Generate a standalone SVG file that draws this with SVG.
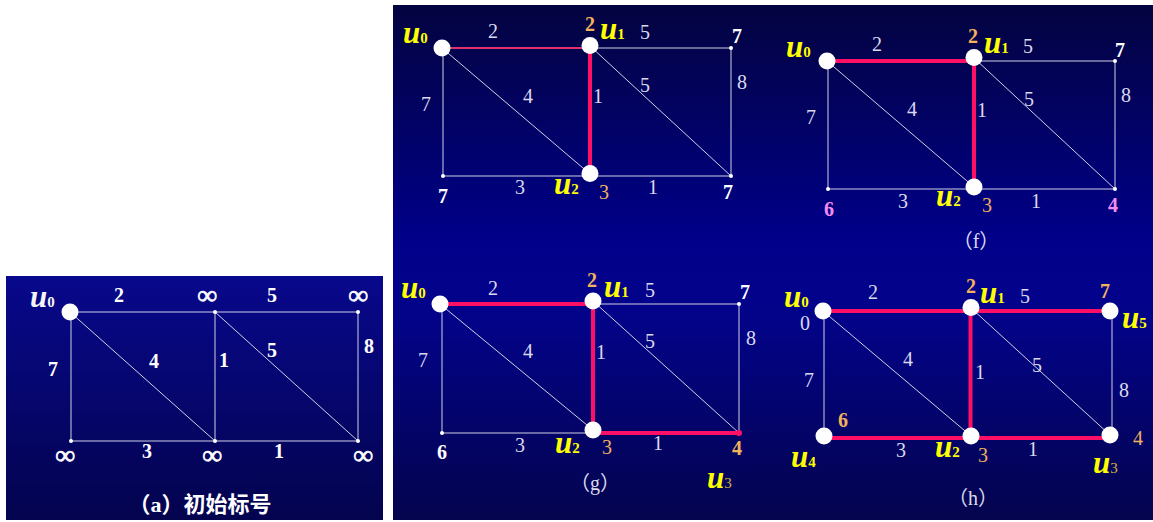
<svg xmlns="http://www.w3.org/2000/svg" width="1153" height="522" viewBox="0 0 1153 522">
<defs>
<linearGradient id="gA" x1="0" y1="0" x2="0" y2="1">
<stop offset="0" stop-color="#08088c"/>
<stop offset="1" stop-color="#03034e"/>
</linearGradient>
<linearGradient id="gB" x1="0" y1="0" x2="0" y2="1">
<stop offset="0" stop-color="#030340"/>
<stop offset="0.46" stop-color="#00008a"/>
<stop offset="0.6" stop-color="#03038a"/>
<stop offset="1" stop-color="#04044e"/>
</linearGradient>
<style>
.e{stroke:#d0d0e6;stroke-width:1;fill:none}
.r{stroke:#ff0f66;stroke-width:4;fill:none}
.rt{stroke:#e0306e;stroke-width:2;fill:none}
.n{fill:#ffffff}
.d{fill:#ffffff}
text{font-family:"Liberation Serif","Times New Roman",serif}
.w{font-size:20px;fill:#dadaee;text-anchor:middle}
.wb{font-size:20px;font-weight:bold;fill:#ffffff;text-anchor:middle}
.inf{font-size:27px;font-weight:bold;fill:#ffffff;stroke:#ffffff;stroke-width:0.7;text-anchor:middle}
.ob{font-size:20px;font-weight:bold;fill:#f4b25a;text-anchor:middle}
.on{font-size:20px;fill:#f0b060;text-anchor:middle}
.pb{font-size:20px;font-weight:bold;fill:#f48cf0;text-anchor:middle}
.u{font-size:31px;font-weight:bold;font-style:italic;fill:#ffff00}
.uw{font-size:31px;font-weight:bold;font-style:italic;fill:#f4f4f4}
.s{font-size:15px;font-style:normal}
.s3{font-size:15px;font-style:normal;font-weight:normal;fill:#d8b040}
.cap{font-size:20px;fill:#dadaee;text-anchor:middle;font-family:"Liberation Serif","Noto Sans CJK SC",serif}
.capa{font-size:22px;font-weight:bold;fill:#ffffff;text-anchor:middle;font-family:"Liberation Serif","Noto Sans CJK SC",sans-serif}
</style>
</defs>
<rect x="0" y="0" width="1153" height="522" fill="#ffffff"/>
<rect x="6" y="276" width="377" height="244" fill="url(#gA)"/>
<rect x="393" y="5" width="760" height="515" fill="url(#gB)"/>

<!-- Panel (a) -->
<g id="panel-a">
<g id="a-connectors">
<line class="e" x1="70" y1="312" x2="358" y2="312"/>
<line class="e" x1="71" y1="312" x2="71" y2="441"/>
<line class="e" x1="70" y1="312" x2="215" y2="441"/>
<line class="e" x1="215" y1="312" x2="215" y2="441"/>
<line class="e" x1="215" y1="312" x2="358" y2="441"/>
<line class="e" x1="358" y1="312" x2="358" y2="441"/>
<line class="e" x1="71" y1="441" x2="358" y2="441"/>
<text class="wb" x="119" y="302">2</text>
<text class="wb" x="272" y="302">5</text>
<text class="wb" x="53" y="376">7</text>
<text class="wb" x="154" y="368">4</text>
<text class="wb" x="224" y="367">1</text>
<text class="wb" x="272" y="357">5</text>
<text class="wb" x="369" y="353">8</text>
<text class="wb" x="147" y="458">3</text>
<text class="wb" x="279" y="458">1</text>
</g>
<g id="a-u0"><circle class="n" cx="70" cy="312" r="8.5"/><text class="uw" x="30" y="307">u<tspan class="s" font-weight="bold">0</tspan></text></g>
<g id="a-v1"><circle class="d" cx="215" cy="312" r="2"/><text class="inf" x="207" y="304">∞</text></g>
<g id="a-v2"><circle class="d" cx="358" cy="312" r="2"/><text class="inf" x="358" y="304">∞</text></g>
<g id="a-v3"><circle class="d" cx="71" cy="441" r="2"/><text class="inf" x="65" y="464">∞</text></g>
<g id="a-v4"><circle class="d" cx="215" cy="441" r="2"/><text class="inf" x="212" y="464">∞</text></g>
<g id="a-v5"><circle class="d" cx="358" cy="441" r="2"/><text class="inf" x="363" y="464">∞</text></g>
<text class="capa" x="200" y="512">（a）初始标号</text>
</g>

<!-- Panel top-middle -->
<g id="panel-b">
<g id="b-connectors">
<line class="e" x1="590" y1="48" x2="731" y2="48"/>
<line class="e" x1="443" y1="48" x2="443" y2="176"/>
<line class="e" x1="442" y1="48" x2="590" y2="174"/>
<line class="e" x1="590" y1="46" x2="731" y2="176"/>
<line class="e" x1="731" y1="48" x2="731" y2="176"/>
<line class="e" x1="443" y1="176" x2="731" y2="176"/>
<line class="rt" x1="442" y1="48" x2="590" y2="48"/>
<line class="r" x1="590" y1="48" x2="590" y2="173"/>
<text class="w" x="493" y="38">2</text>
<text class="w" x="645" y="39">5</text>
<text class="w" x="742" y="89">8</text>
<text class="w" x="426" y="111">7</text>
<text class="w" x="528" y="103">4</text>
<text class="w" x="598" y="103">1</text>
<text class="w" x="645" y="92">5</text>
<text class="w" x="520" y="194">3</text>
<text class="w" x="653" y="194">1</text>
</g>
<g id="b-u0"><circle class="n" cx="442" cy="48" r="8.5"/><text class="u" x="403" y="42.5">u<tspan class="s">0</tspan></text></g>
<g id="b-u1"><circle class="n" cx="590" cy="45.5" r="8.5"/><text class="ob" x="590" y="31">2</text><text class="u" x="600" y="39">u<tspan class="s">1</tspan></text></g>
<g id="b-v2"><circle class="d" cx="731" cy="48" r="2"/><text class="wb" x="737" y="43">7</text></g>
<g id="b-v3"><circle class="d" cx="443" cy="176" r="2"/><text class="wb" x="443" y="203">7</text></g>
<g id="b-u2"><circle class="n" cx="590" cy="173.5" r="8.5"/><text class="u" x="554" y="194">u<tspan class="s">2</tspan></text><text class="on" x="604" y="199">3</text></g>
<g id="b-v5"><circle class="d" cx="731" cy="176" r="2"/><text class="wb" x="728" y="199">7</text></g>
</g>

<!-- Panel (f) -->
<g id="panel-f">
<g id="f-connectors">
<line class="e" x1="974" y1="61" x2="1115" y2="61"/>
<line class="e" x1="828" y1="61" x2="828" y2="189"/>
<line class="e" x1="827" y1="61" x2="974" y2="187"/>
<line class="e" x1="974" y1="58" x2="1115" y2="189"/>
<line class="e" x1="1115" y1="61" x2="1115" y2="189"/>
<line class="e" x1="828" y1="189" x2="1115" y2="189"/>
<line class="r" x1="827" y1="61" x2="974" y2="61"/>
<line class="r" x1="974" y1="61" x2="974" y2="186"/>
<text class="w" x="877" y="51">2</text>
<text class="w" x="1028" y="53">5</text>
<text class="w" x="1126" y="102">8</text>
<text class="w" x="811" y="124">7</text>
<text class="w" x="912" y="116">4</text>
<text class="w" x="982" y="117">1</text>
<text class="w" x="1029" y="106">5</text>
<text class="w" x="903" y="208">3</text>
<text class="w" x="1036" y="208">1</text>
</g>
<g id="f-u0"><circle class="n" cx="827" cy="61" r="8.5"/><text class="u" x="786" y="57">u<tspan class="s">0</tspan></text></g>
<g id="f-u1"><circle class="n" cx="974" cy="57.5" r="8.5"/><text class="ob" x="973" y="43">2</text><text class="u" x="984" y="53">u<tspan class="s">1</tspan></text></g>
<g id="f-v2"><circle class="d" cx="1115" cy="61" r="2"/><text class="wb" x="1120" y="57">7</text></g>
<g id="f-v3"><circle class="d" cx="828" cy="189" r="2"/><text class="pb" x="829" y="216">6</text></g>
<g id="f-u2"><circle class="n" cx="974" cy="187" r="8.5"/><text class="u" x="936" y="206">u<tspan class="s">2</tspan></text><text class="on" x="987" y="212">3</text></g>
<g id="f-v5"><circle class="d" cx="1115" cy="189" r="2"/><text class="pb" x="1113" y="212">4</text></g>
<text class="cap" x="976" y="248">（f）</text>
</g>

<!-- Panel (g) -->
<g id="panel-g">
<g id="g-connectors">
<line class="e" x1="593" y1="304" x2="739" y2="304"/>
<line class="e" x1="442" y1="304" x2="442" y2="433"/>
<line class="e" x1="440" y1="304" x2="593" y2="430"/>
<line class="e" x1="593" y1="301" x2="739" y2="433"/>
<line class="e" x1="739" y1="304" x2="739" y2="433"/>
<line class="e" x1="442" y1="433" x2="593" y2="433"/>
<line class="r" x1="440" y1="304" x2="593" y2="304"/>
<line class="r" x1="593" y1="304" x2="593" y2="430"/>
<line class="r" x1="593" y1="433" x2="739" y2="433"/>
<text class="w" x="493" y="295">2</text>
<text class="w" x="650" y="297">5</text>
<text class="w" x="751" y="345">8</text>
<text class="w" x="423" y="367">7</text>
<text class="w" x="528" y="358">4</text>
<text class="w" x="601" y="359">1</text>
<text class="w" x="650" y="348">5</text>
<text class="w" x="520" y="452">3</text>
<text class="w" x="658" y="450">1</text>
</g>
<g id="g-u0"><circle class="n" cx="440" cy="304" r="8.5"/><text class="u" x="401" y="298">u<tspan class="s">0</tspan></text></g>
<g id="g-u1"><circle class="n" cx="593" cy="301" r="8.5"/><text class="ob" x="592" y="287">2</text><text class="u" x="604" y="297">u<tspan class="s">1</tspan></text></g>
<g id="g-v2"><circle class="d" cx="739" cy="304" r="2"/><text class="wb" x="745" y="299">7</text></g>
<g id="g-v3"><circle class="d" cx="442" cy="433" r="2"/><text class="wb" x="442" y="459">6</text></g>
<g id="g-u2"><circle class="n" cx="593" cy="430" r="8.5"/><text class="u" x="555" y="453">u<tspan class="s">2</tspan></text><text class="on" x="607" y="454">3</text></g>
<g id="g-u3"><circle cx="739" cy="433" r="3" fill="#ff0f66"/><text class="ob" x="737" y="455">4</text><text class="u" x="707" y="488">u<tspan class="s3">3</tspan></text></g>
<text class="cap" x="595" y="490">（g）</text>
</g>

<!-- Panel (h) -->
<g id="panel-h">
<g id="h-connectors">
<line class="e" x1="824" y1="311" x2="824" y2="436"/>
<line class="e" x1="823" y1="311" x2="971" y2="436"/>
<line class="e" x1="971" y1="308" x2="1110" y2="435"/>
<line class="e" x1="1112" y1="311" x2="1112" y2="436"/>
<line class="r" x1="823" y1="311" x2="1110" y2="311"/>
<line class="r" x1="970.5" y1="311" x2="970.5" y2="436"/>
<line class="r" x1="824" y1="438" x2="1110" y2="438"/>
<text class="w" x="873" y="299">2</text>
<text class="w" x="1025" y="303">5</text>
<text class="w" x="809" y="387">7</text>
<text class="w" x="908" y="366">4</text>
<text class="w" x="980" y="379">1</text>
<text class="w" x="1037" y="372">5</text>
<text class="w" x="1124" y="397">8</text>
<text class="w" x="901" y="457">3</text>
<text class="w" x="1033" y="456">1</text>
</g>
<g id="h-u0"><circle class="n" cx="823" cy="311" r="8.5"/><text class="u" x="784" y="307">u<tspan class="s">0</tspan></text><text class="w" x="805" y="330">0</text></g>
<g id="h-u1"><circle class="n" cx="971" cy="307.5" r="8.5"/><text class="ob" x="971" y="293">2</text><text class="u" x="980" y="303">u<tspan class="s">1</tspan></text></g>
<g id="h-u5"><circle class="n" cx="1110" cy="311" r="8.5"/><text class="ob" x="1105" y="298">7</text><text class="u" x="1122" y="328">u<tspan class="s">5</tspan></text></g>
<g id="h-u4"><circle class="n" cx="824" cy="436" r="8.5"/><text class="ob" x="843" y="427">6</text><text class="u" x="791" y="467">u<tspan class="s">4</tspan></text></g>
<g id="h-u2"><circle class="n" cx="971" cy="436" r="8.5"/><text class="u" x="935" y="457">u<tspan class="s">2</tspan></text><text class="on" x="983" y="462">3</text></g>
<g id="h-u3"><circle class="n" cx="1110" cy="435" r="8.5"/><text class="on" x="1138" y="445">4</text><text class="u" x="1093" y="473">u<tspan class="s3">3</tspan></text></g>
<text class="cap" x="973" y="505">（h）</text>
</g>
</svg>
